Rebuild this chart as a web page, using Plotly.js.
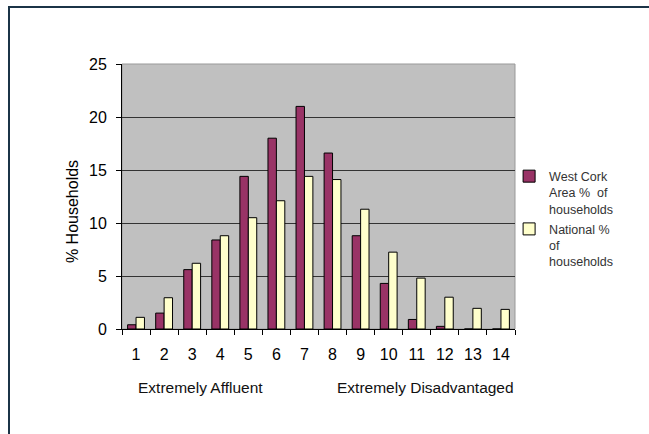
<!DOCTYPE html>
<html>
<head>
<meta charset="utf-8">
<script src="https://cdn.plot.ly/plotly-3.0.1.min.js"></script>
<style>
  html, body { margin: 0; padding: 0; background: #fff; }
  #frame { position: absolute; left: 8px; top: 6px; width: 641px; height: 428px;
           border-left: 2px solid #1b3447; border-top: 2px solid #1b3447; }
  #chart { position: absolute; left: 0; top: 0; width: 649px; height: 434px; }
</style>
</head>
<body>
<div id="chart"></div>
<div id="frame"></div>
<script>
const categories = ["1","2","3","4","5","6","7","8","9","10","11","12","13","14"];
const westCork = [0.4, 1.5, 5.6, 8.4, 14.4, 18.0, 21.0, 16.6, 8.8, 4.3, 0.9, 0.25, 0, 0];
const national = [1.1, 2.95, 6.2, 8.8, 10.5, 12.1, 14.4, 14.1, 11.3, 7.25, 4.8, 3.0, 1.95, 1.85];
const seriesNames = ["West Cork<br>Area %  of<br>households", "National %<br>of<br>households"];
const yTicks = [0, 5, 10, 15, 20, 25];

const font = "Arial, 'Liberation Sans', sans-serif";

const traces = [
  { type: "bar", x: categories, y: westCork, name: seriesNames[0], legendgroup: "a",
    marker: { color: "#993366", line: { color: "#000", width: 1 } } },
  { type: "bar", x: categories, y: national, name: seriesNames[1], legendgroup: "b",
    marker: { color: "#FFFFCC", line: { color: "#000", width: 1 } } }
];

const layout = {
  width: 649, height: 434,
  margin: { l: 122, r: 134, t: 64, b: 105, autoexpand: false },
  paper_bgcolor: "rgba(0,0,0,0)",
  plot_bgcolor: "#C0C0C0",
  font: { family: font, color: "#000", size: 16 },
  barmode: "group",
  bargap: 0.4,
  bargroupgap: 0,
  showlegend: true,
  legend: {
    x: 0.985, xanchor: "left", y: 0.632, yanchor: "top", valign: "top",
    font: { family: font, size: 12.5, color: "#333" },
    bgcolor: "rgba(0,0,0,0)", tracegroupgap: 1, itemwidth: 30
  },
  xaxis: {
    type: "category", tickvals: categories, ticktext: categories,
    showline: true, linecolor: "#000", linewidth: 1,
    ticks: "outside", tickson: "boundaries", ticklen: 5, tickcolor: "#000",
    tickfont: { family: font, size: 16, color: "#000" }, ticklabelstandoff: 11,
    showgrid: false, zeroline: false, automargin: false
  },
  yaxis: {
    range: [0, 25], tickvals: yTicks,
    showline: true, linecolor: "#000", linewidth: 1,
    ticks: "outside", ticklen: 5, tickcolor: "#000",
    tickfont: { family: font, size: 16, color: "#000" }, ticklabelstandoff: 6,
    showgrid: true, gridcolor: "#333", gridwidth: 1,
    zeroline: false, automargin: false
  },
  shapes: [
    { type: "rect", xref: "paper", yref: "paper", x0: 0, x1: 1, y0: 0, y1: 1,
      line: { color: "#999", width: 1 }, fillcolor: "rgba(0,0,0,0)", layer: "below" }
  ],
  annotations: [
    { text: "% Households", xref: "paper", yref: "paper", x: -0.127, y: 0.4415,
      xanchor: "center", yanchor: "middle", textangle: -90, showarrow: false,
      font: { family: font, size: 16, color: "#000" } },
    { text: "Extremely Affluent", xref: "paper", yref: "paper", x: 0.2, y: -0.222,
      xanchor: "center", yanchor: "middle", showarrow: false,
      font: { family: font, size: 15.5, color: "#111" } },
    { text: "Extremely Disadvantaged", xref: "paper", yref: "paper", x: 0.771, y: -0.222,
      xanchor: "center", yanchor: "middle", showarrow: false,
      font: { family: font, size: 15.5, color: "#111" } }
  ]
};

Plotly.newPlot("chart", traces, layout, { displayModeBar: false, staticPlot: true });
</script>
</body>
</html>
